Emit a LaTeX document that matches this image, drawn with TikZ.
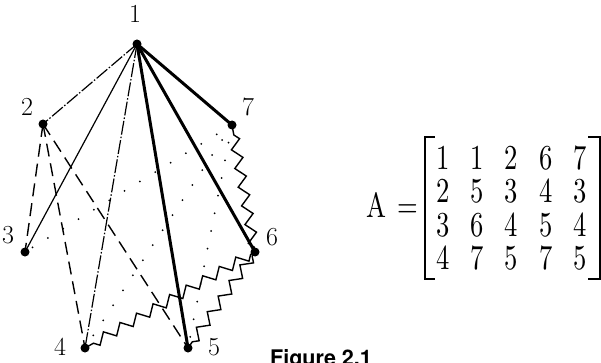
\documentclass[tikz,border=0pt]{standalone}
\usepackage{fontspec}
\newfontfamily\capfont{TeX Gyre Heros}
\newfontfamily\mtxfont{lmroman10-regular.otf}[FakeStretch=0.76]
\usetikzlibrary{decorations.pathmorphing,matrix}
\definecolor{hgInk}{HTML}{000000}

\begin{document}
\begin{tikzpicture}[x=1pt, y=-1pt,
  vtx/.style   ={circle, fill=hgInk, inner sep=0pt, minimum size=9pt},
  vlbl/.style  ={font=\fontsize{26}{30}\selectfont, text=hgInk, inner sep=0pt},
  hthin/.style ={line width=1.2pt, hgInk},
  hdashdot/.style={line width=1.2pt, hgInk, dash pattern=on 14pt off 2pt on 1.5pt off 2pt},
  hthick/.style={line width=3pt, hgInk},
  hdash/.style ={line width=1.4pt, hgInk, dash pattern=on 13pt off 7pt},
  hzig/.style  ={line width=1.4pt, hgInk, decorate, decoration={zigzag, segment length=19pt, amplitude=5pt, pre length=5pt, post length=5pt}},
  hdot/.style  ={line width=2pt, hgInk, line cap=round, dash pattern=on 0pt off 18pt},
  mtxt/.style  ={font=\mtxfont\fontsize{35}{40}\selectfont, text=hgInk, inner sep=0pt},
  brk/.style   ={line width=2pt, hgInk},
]
\useasboundingbox (0,0) rectangle (601,363);

% vertices
\node[vtx] (v1) at (137,44)  {};
\node[vtx] (v2) at (43,124)  {};
\node[vtx] (v7) at (232,125) {};
\node[vtx] (v3) at (25,252)  {};
\node[vtx] (v6) at (255,252) {};
\node[vtx] (v4) at (85,348)  {};
\node[vtx] (v5) at (188,348) {};

\node[vlbl] (l1) at (135,14)  {1};
\node[vlbl] (l2) at (27,107)  {2};
\node[vlbl] (l7) at (248,107) {7};
\node[vlbl] (l3) at (8,235)   {3};
\node[vlbl] (l6) at (272,237) {6};
\node[vlbl] (l4) at (60,347)  {4};
\node[vlbl] (l5) at (214,347) {5};

% hyperedge {1,2,3,4}
\draw[hdashdot] (v1.center) -- (v2.center);
\draw[hthin]    (v1.center) -- (v3.center);
\draw[hdashdot] (v1.center) -- (v4.center);
% hyperedge {1,5,6,7}
\draw[hthick] (v1.center) -- (v5.center);
\draw[hthick] (v1.center) -- (v6.center);
\draw[hthick] (v1.center) -- (v7.center);
% hyperedge {2,3,4,5}
\draw[hdash] (v2.center) -- (v3.center);
\draw[hdash] (v2.center) -- (v4.center);
\draw[hdash] (v2.center) -- (v5.center);
% hyperedge {6,4,5,7}
\draw[hzig] (v6.center) -- (v7.center);
\draw[hzig] (v6.center) -- (v4.center);
\draw[hzig] (v6.center) -- (v5.center);
% hyperedge {7,3,4,5}
\draw[hdot] (v7.center) -- (v3.center);
\draw[hdot] (v7.center) -- (v4.center);
\draw[hdot] (v7.center) -- (v5.center);

% incidence matrix
\matrix (amat) [matrix of nodes, nodes={mtxt}, column sep=21pt, row sep=9pt] at (511.5,208.25) {
  1 & 1 & 2 & 6 & 7 \\
  2 & 5 & 3 & 4 & 3 \\
  3 & 6 & 4 & 5 & 4 \\
  4 & 7 & 5 & 7 & 5 \\
};
\draw[brk] ([xshift=2pt,yshift=5pt]amat.north west) -| ([xshift=-8pt,yshift=-5pt]amat.south west)
  -- ([xshift=2pt,yshift=-5pt]amat.south west);
\draw[brk] ([xshift=-2pt,yshift=5pt]amat.north east) -| ([xshift=10pt,yshift=-5pt]amat.south east)
  -- ([xshift=-2pt,yshift=-5pt]amat.south east);
\node[mtxt, anchor=base east] (aname) at (418,217) {A\hspace{0.3em}=};

\node[anchor=base west, inner sep=0pt, text=hgInk,
  font=\capfont\bfseries\fontsize{21.5}{24}\selectfont] (cap) at (270,365) {Figure 2.1};
\end{tikzpicture}
\end{document}
